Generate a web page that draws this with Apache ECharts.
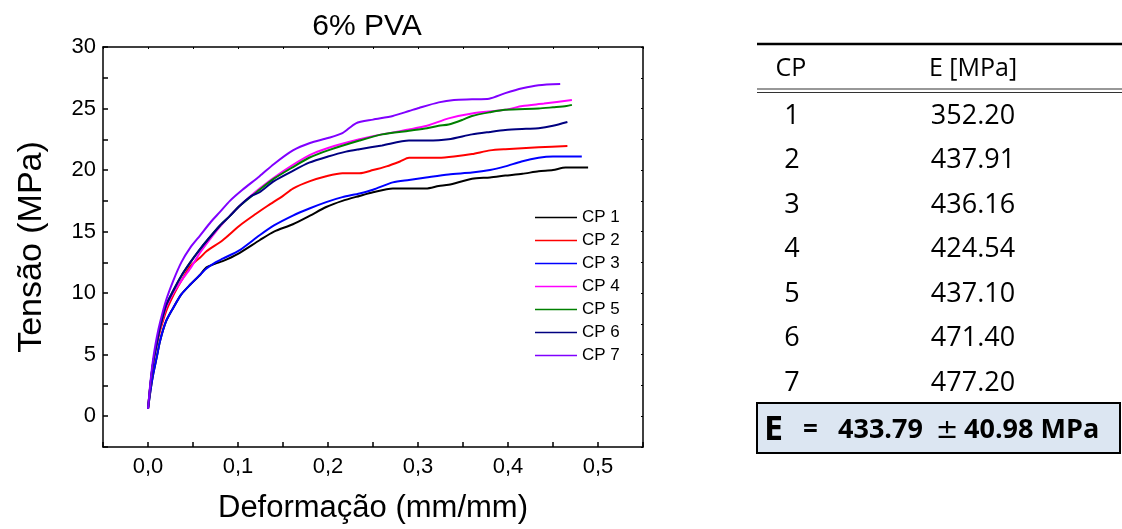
<!DOCTYPE html>
<html>
<head>
<meta charset="utf-8">
<script src="https://cdn.jsdelivr.net/npm/echarts@6/dist/echarts.min.js"></script>
<style>
html,body{margin:0;padding:0;background:#fff;}
#chart{width:1122px;height:529px;}
</style>
</head>
<body>
<div id="chart"></div>
<script>
// ---- data ----
const seriesNames = ['CP 1','CP 2','CP 3','CP 4','CP 5','CP 6','CP 7'];
const seriesColors = ['#000000','#ff0000','#0000ff','#ff00ff','#008000','#000080','#8000ff'];

const cp1 = [[0,0.6],[0.003,2.2],[0.006,3.5],[0.01,4.9],[0.0133,6.1],[0.02,7.7],[0.028,8.8],[0.037,9.9],[0.047,10.7],[0.058,11.5],[0.065,12.1],[0.075,12.4],[0.083,12.6],[0.1,13.2],[0.124,14.3],[0.14,15.0],[0.161,15.6],[0.18,16.3],[0.198,17.0],[0.216,17.5],[0.235,17.9],[0.25,18.2],[0.272,18.5],[0.29,18.5],[0.309,18.5],[0.323,18.7],[0.334,18.8],[0.36,19.3],[0.38,19.4],[0.397,19.55],[0.416,19.7],[0.434,19.9],[0.45,20.0],[0.464,20.2],[0.489,20.2]];
const cp2 = [[0,0.6],[0.003,2.7],[0.006,4.4],[0.01,5.9],[0.0133,6.9],[0.02,8.5],[0.028,9.8],[0.037,11.0],[0.047,12.2],[0.058,12.9],[0.065,13.4],[0.083,14.3],[0.102,15.5],[0.12,16.45],[0.133,17.1],[0.15,17.9],[0.161,18.5],[0.18,19.1],[0.198,19.5],[0.216,19.75],[0.235,19.75],[0.25,20.0],[0.265,20.3],[0.28,20.7],[0.29,21.0],[0.301,21.0],[0.323,21.0],[0.34,21.1],[0.36,21.3],[0.38,21.6],[0.397,21.7],[0.434,21.85],[0.466,21.95]];
const cp3 = [[0,0.6],[0.003,2.2],[0.006,3.5],[0.01,4.9],[0.0133,6.1],[0.02,7.7],[0.028,8.8],[0.037,9.9],[0.047,10.7],[0.058,11.5],[0.065,12.0],[0.075,12.5],[0.083,12.8],[0.102,13.5],[0.124,14.7],[0.14,15.5],[0.161,16.3],[0.18,16.9],[0.198,17.4],[0.216,17.8],[0.235,18.1],[0.25,18.4],[0.272,19.0],[0.29,19.2],[0.309,19.4],[0.334,19.65],[0.36,19.8],[0.38,20.0],[0.397,20.3],[0.415,20.7],[0.434,21.0],[0.45,21.1],[0.482,21.1]];
const cp4 = [[0,0.6],[0.003,2.8],[0.006,4.5],[0.01,6.0],[0.0133,7.1],[0.02,8.8],[0.028,10.0],[0.037,11.0],[0.047,12.0],[0.057,13.2],[0.067,14.2],[0.08,15.4],[0.09,16.2],[0.102,17.1],[0.124,18.5],[0.15,19.9],[0.179,21.2],[0.2,21.8],[0.235,22.5],[0.26,22.9],[0.29,23.3],[0.31,23.6],[0.334,24.2],[0.36,24.6],[0.397,24.9],[0.416,25.2],[0.44,25.4],[0.471,25.7]];
const cp5 = [[0,0.6],[0.003,2.8],[0.006,4.5],[0.01,6.0],[0.0133,7.2],[0.02,9.0],[0.028,10.2],[0.037,11.4],[0.047,12.5],[0.057,13.5],[0.067,14.4],[0.08,15.5],[0.09,16.2],[0.102,17.1],[0.124,18.4],[0.14,19.3],[0.16,20.2],[0.179,21.0],[0.2,21.6],[0.235,22.4],[0.26,22.9],[0.29,23.2],[0.31,23.4],[0.323,23.6],[0.334,23.7],[0.35,24.1],[0.36,24.4],[0.38,24.7],[0.397,24.9],[0.434,25.0],[0.45,25.1],[0.465,25.2],[0.471,25.3]];
const cp6 = [[0,0.6],[0.003,2.8],[0.006,4.5],[0.01,6.0],[0.0133,7.2],[0.02,9.0],[0.028,10.2],[0.037,11.4],[0.047,12.5],[0.057,13.5],[0.067,14.4],[0.08,15.5],[0.09,16.2],[0.102,17.1],[0.115,17.9],[0.124,18.2],[0.14,19.1],[0.16,19.9],[0.179,20.6],[0.2,21.1],[0.22,21.5],[0.235,21.7],[0.26,22.0],[0.29,22.4],[0.31,22.4],[0.334,22.5],[0.36,22.9],[0.38,23.1],[0.397,23.25],[0.42,23.35],[0.434,23.4],[0.45,23.6],[0.466,23.9]];
const cp7 = [[0,0.6],[0.003,3.0],[0.006,4.8],[0.01,6.5],[0.0133,7.6],[0.02,9.4],[0.028,11.0],[0.037,12.5],[0.047,13.7],[0.058,14.7],[0.07,15.8],[0.08,16.6],[0.091,17.5],[0.105,18.4],[0.124,19.5],[0.14,20.5],[0.161,21.6],[0.18,22.2],[0.2,22.6],[0.216,23.0],[0.231,23.8],[0.25,24.1],[0.272,24.4],[0.29,24.8],[0.301,25.05],[0.323,25.5],[0.34,25.7],[0.36,25.75],[0.379,25.8],[0.397,26.25],[0.416,26.65],[0.434,26.9],[0.458,27.0]];

const tableHeader = ['CP', 'E [MPa]'];
const tableCP = ['1','2','3','4','5','6','7'];
const tableE = [352.20, 437.91, 436.16, 424.54, 437.10, 471.40, 477.20];
const meanE = 433.79;
const sdE = 40.98;

// ---- chart ----
const allData = [cp1, cp2, cp3, cp4, cp5, cp6, cp7];
const chart = echarts.init(document.getElementById('chart'));

const series = allData.map((d, i) => ({
  name: seriesNames[i],
  type: 'line',
  data: d,
  showSymbol: false,
  symbol: 'none',
  smooth: 0.25,
  lineStyle: { color: seriesColors[i], width: 2 },
  itemStyle: { color: seriesColors[i] },
  z: 2 + i,
  xAxisIndex: 0, yAxisIndex: 0
}));

const tableFont = '"Open Sans", "Noto Sans", sans-serif';
const graphics = [];
graphics.push({ type: 'line', shape: { x1: 757, y1: 44, x2: 1122, y2: 44 }, style: { stroke: '#000', lineWidth: 2.5 } });
graphics.push({ type: 'text', x: 791, y: 69, style: { text: tableHeader[0], font: '25px ' + tableFont, fill: '#000', textAlign: 'center', textVerticalAlign: 'middle' } });
graphics.push({ type: 'text', x: 973, y: 69, style: { text: tableHeader[1], font: '25px ' + tableFont, fill: '#000', textAlign: 'center', textVerticalAlign: 'middle' } });
graphics.push({ type: 'line', shape: { x1: 757, y1: 89, x2: 1122, y2: 89 }, style: { stroke: '#333', lineWidth: 1.2 } });
graphics.push({ type: 'line', shape: { x1: 757, y1: 92.5, x2: 1122, y2: 92.5 }, style: { stroke: '#333', lineWidth: 1.2 } });
tableCP.forEach((c, i) => {
  const y = 116 + 44.5 * i;
  graphics.push({ type: 'text', x: 792, y: y, style: { text: c, font: '27px ' + tableFont, fill: '#000', textAlign: 'center', textVerticalAlign: 'middle' } });
  graphics.push({ type: 'text', x: 973, y: y, style: { text: tableE[i].toFixed(2), font: '27px ' + tableFont, fill: '#000', textAlign: 'center', textVerticalAlign: 'middle' } });
});
graphics.push({ type: 'rect', shape: { x: 757, y: 403, width: 363, height: 50 }, style: { fill: '#dce6f2', stroke: '#000', lineWidth: 2 } });
graphics.push({ type: 'text', x: 764, y: 430, style: { text: 'E', font: 'bold 34px ' + tableFont, fill: '#000', textAlign: 'left', textVerticalAlign: 'middle' } });
graphics.push({ type: 'text', x: 803, y: 431, style: { text: '=', font: 'bold 26px ' + tableFont, fill: '#000', textAlign: 'left', textVerticalAlign: 'middle' } });
graphics.push({ type: 'text', x: 838, y: 430, style: { text: meanE.toFixed(2), font: 'bold 27px ' + tableFont, fill: '#000', textAlign: 'left', textVerticalAlign: 'middle' } });
graphics.push({ type: 'text', x: 947, y: 431, style: { text: '\u00b1', font: '27px "DejaVu Sans", sans-serif', fill: '#000', textAlign: 'center', textVerticalAlign: 'middle' } });
graphics.push({ type: 'text', x: 964, y: 430, style: { text: sdE.toFixed(2) + ' MPa', font: 'bold 27px ' + tableFont, fill: '#000', textAlign: 'left', textVerticalAlign: 'middle' } });

const axFont = '"Liberation Sans", Arial, sans-serif';

const option = {
  animation: false,
  backgroundColor: '#ffffff',
  title: {
    text: '6% PVA', left: 362, top: 7, textAlign: 'center',
    textStyle: { fontFamily: axFont, fontSize: 30, fontWeight: 'normal', color: '#000' }
  },
  legend: {
    orient: 'vertical', left: 530, top: 204,
    icon: 'rect', itemWidth: 42, itemHeight: 1.5, itemGap: 6,
    data: seriesNames,
    textStyle: { fontFamily: axFont, fontSize: 17, color: '#000', lineHeight: 17, padding: [0,0,0,0] }
  },
  grid: { left: 103, right: 479, top: 47, bottom: 78, containLabel: false },
  xAxis: [{
    type: 'value', min: -0.05, max: 0.55, interval: 0.05,
    name: 'Deformação (mm/mm)', nameLocation: 'middle', nameGap: 46,
    nameTextStyle: { fontFamily: axFont, fontSize: 31, color: '#000' },
    axisLine: { show: true, onZero: false, lineStyle: { color: '#000', width: 1.5 } },
    axisTick: { show: true, inside: true, length: 5, lineStyle: { color: '#000', width: 1.5 } },
    axisLabel: {
      fontFamily: axFont, fontSize: 22, color: '#000', margin: 9,
      formatter: v => {
        const k = Math.round(v * 100);
        if (k % 10 !== 0) return '';
        const r = Math.abs(v) < 1e-9 ? 0 : v;
        return r.toFixed(1).replace('.', ',');
      }
    },
    splitLine: { show: false }
  }, {
    type: 'value', position: 'top', min: -0.05, max: 0.55, interval: 0.05,
    axisLine: { show: true, onZero: false, lineStyle: { color: '#000', width: 1.5 } },
    axisTick: { show: true, inside: true, length: 2, lineStyle: { color: '#000' } },
    axisLabel: { show: false }, splitLine: { show: false }
  }],
  yAxis: [{
    type: 'value', min: -2.5, max: 30, interval: 2.5,
    name: 'Tensão (MPa)', nameLocation: 'middle', nameGap: 54, nameRotate: 90,
    nameTextStyle: { fontFamily: axFont, fontSize: 34, color: '#000' },
    axisLine: { show: true, onZero: false, lineStyle: { color: '#000', width: 1.5 } },
    axisTick: { show: true, inside: true, length: 5, lineStyle: { color: '#000', width: 1.5 } },
    axisLabel: {
      fontFamily: axFont, fontSize: 22, color: '#000', margin: 7,
      formatter: v => {
        const k = Math.round(v * 10);
        if (k % 50 !== 0 || k < 0) return '';
        return String(Math.round(v));
      }
    },
    splitLine: { show: false }
  }, {
    type: 'value', position: 'right', min: -2.5, max: 30, interval: 2.5,
    axisLine: { show: true, onZero: false, lineStyle: { color: '#000', width: 1.5 } },
    axisTick: { show: true, inside: true, length: 2, lineStyle: { color: '#000' } },
    axisLabel: { show: false }, splitLine: { show: false }
  }],
  series: series,
  graphic: graphics
};
chart.setOption(option);
</script>
</body>
</html>
